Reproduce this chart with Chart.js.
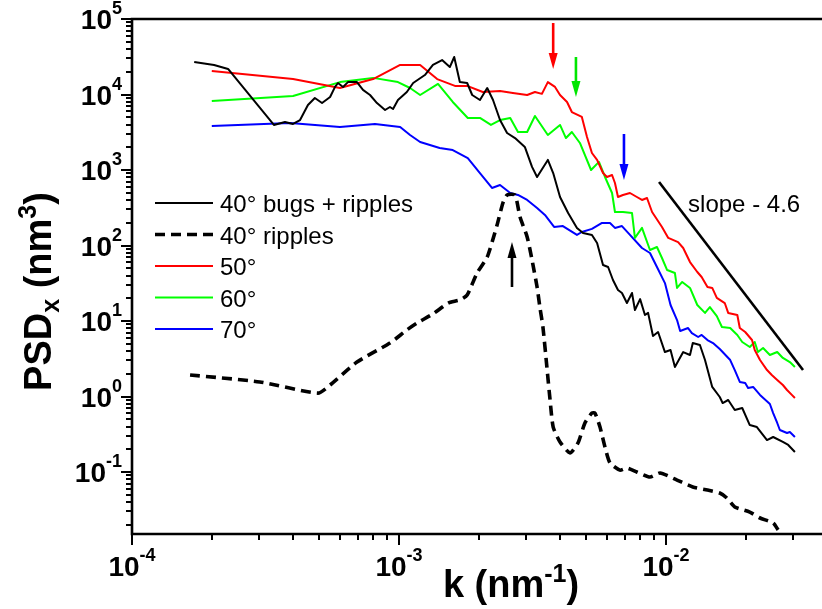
<!DOCTYPE html>
<html lang="en">
<head>
    <meta charset="UTF-8">
    <title>PSDx vs k</title>
    <script src="https://cdn.jsdelivr.net/npm/chart.js"></script>
    <style>
        body { margin: 0; background: #fff; }
        canvas { display: block; }
    </style>
</head>
<body>
    <canvas id="graficoPSD" width="822" height="609"></canvas>

    <script>
        // k (nm^-1) and PSD_x (nm^3)
        const kBugs = [1.71e-4, 2.03e-4, 2.29e-4, 3.40e-4, 3.74e-4, 4.01e-4, 4.26e-4, 4.56e-4, 4.84e-4, 5.15e-4,
            5.52e-4, 5.76e-4, 5.91e-4, 6.17e-4, 6.44e-4, 6.96e-4, 7.33e-4, 7.79e-4, 8.27e-4, 8.87e-4,
            9.25e-4, 9.50e-4, 9.91e-4, 1.07e-3, 1.13e-3, 1.25e-3, 1.34e-3, 1.45e-3, 1.55e-3, 1.61e-3,
            1.69e-3, 1.80e-3, 1.88e-3, 2.01e-3, 2.14e-3, 2.25e-3, 2.39e-3, 2.54e-3, 2.72e-3, 2.96e-3,
            3.15e-3, 3.29e-3, 3.61e-3, 3.78e-3, 4.01e-3, 4.30e-3, 4.64e-3, 4.89e-3, 5.28e-3, 5.52e-3,
            5.81e-3, 6.07e-3, 6.33e-3, 6.61e-3, 6.84e-3, 7.14e-3, 7.46e-3, 7.65e-3, 8.00e-3, 8.34e-3,
            8.57e-3, 8.94e-3, 9.34e-3, 9.91e-3, 1.04e-2, 1.08e-2, 1.16e-2, 1.23e-2, 1.26e-2, 1.34e-2,
            1.40e-2, 1.49e-2, 1.59e-2, 1.63e-2, 1.71e-2, 1.81e-2, 1.93e-2, 2.06e-2, 2.19e-2, 2.39e-2,
            2.52e-2, 2.74e-2, 2.87e-2, 3.04e-2];
        const psdBugs = [2.69e4, 2.46e4, 2.18e4, 3.95e3, 4.32e3, 4.07e3, 4.59e3, 7.26e3, 8.99e3, 7.71e3,
            9.27e3, 1.26e4, 1.42e4, 1.26e4, 1.46e4, 1.46e4, 1.15e4, 9.85e3, 7.71e3, 6.23e3,
            6.83e3, 6.43e3, 8.46e3, 1.08e4, 1.42e4, 1.81e4, 2.46e4, 2.86e4, 2.31e4, 3.14e4,
            1.46e4, 1.42e4, 9.85e3, 8.46e3, 1.22e4, 8.46e3, 4.59e3, 3.09e3, 2.65e3, 2.02e3,
            1.10e3, 808, 1.36e3, 912, 439, 269, 171, 146, 138, 108,
            55.2, 51.9, 34.9, 25.7, 23.5, 17.3, 23.5, 14.0, 19.5, 12.0,
            12.8, 6.32, 7.15, 3.88, 4.13, 2.46, 3.88, 3.55, 5.11, 4.81,
            3.04, 1.34, 0.985, 0.820, 0.899, 0.663, 0.705, 0.419, 0.394, 0.265,
            0.291, 0.250, 0.228, 0.184];

        const kRipples = [1.65e-4, 3.01e-4, 4.97e-4, 5.52e-4, 6.96e-4, 9.25e-4, 1.07e-3, 1.17e-3, 1.34e-3, 1.53e-3,
            1.69e-3, 1.80e-3, 1.96e-3, 2.14e-3, 2.33e-3, 2.45e-3, 2.54e-3, 2.72e-3, 2.84e-3, 3.02e-3,
            3.15e-3, 3.29e-3, 3.37e-3, 3.46e-3, 3.58e-3, 3.68e-3, 3.78e-3, 4.01e-3, 4.37e-3, 4.68e-3,
            4.97e-3, 5.28e-3, 5.42e-3, 5.66e-3, 5.91e-3, 6.17e-3, 6.72e-3, 7.14e-3, 7.78e-3, 8.71e-3,
            9.50e-3, 1.10e-2, 1.26e-2, 1.43e-2, 1.59e-2, 1.69e-2, 1.81e-2, 2.06e-2, 2.25e-2, 2.52e-2,
            2.63e-2];
        const psdRipples = [1.93, 1.56, 1.11, 1.42, 2.86, 5.11, 7.60, 9.41, 12.4, 17.3,
            19.0, 22.1, 43.2, 70.5, 187, 366, 467, 467, 238, 130,
            64.3, 28.2, 15.3, 8.34, 2.46, 0.899, 0.394, 0.250, 0.179, 0.242,
            0.446, 0.604, 0.604, 0.394, 0.214, 0.132, 0.106, 0.113, 0.100, 0.0859,
            0.0970, 0.0783, 0.0633, 0.0578, 0.0527, 0.0453, 0.0344, 0.0295, 0.0246, 0.0211,
            0.0171];

        const k50 = [1.99e-4, 4.01e-4, 6.01e-4, 8.00e-4, 1.01e-3, 1.20e-3, 1.39e-3, 1.62e-3, 1.80e-3, 2.06e-3,
            2.39e-3, 2.67e-3, 3.02e-3, 3.23e-3, 3.43e-3, 3.61e-3, 3.84e-3, 4.01e-3, 4.26e-3, 4.44e-3,
            4.84e-3, 5.06e-3, 5.28e-3, 5.52e-3, 5.81e-3, 6.01e-3, 6.28e-3, 6.44e-3, 6.61e-3, 6.90e-3,
            7.33e-3, 7.78e-3, 8.13e-3, 8.49e-3, 8.87e-3, 9.66e-3, 1.02e-2, 1.11e-2, 1.16e-2, 1.23e-2,
            1.31e-2, 1.36e-2, 1.43e-2, 1.49e-2, 1.55e-2, 1.66e-2, 1.71e-2, 1.85e-2, 1.89e-2, 1.98e-2,
            2.10e-2, 2.15e-2, 2.25e-2, 2.39e-2, 2.49e-2, 2.61e-2, 2.74e-2, 2.84e-2, 2.96e-2, 3.04e-2];
        const psd50 = [2.05e4, 1.60e4, 1.22e4, 1.60e4, 2.46e4, 2.46e4, 1.60e4, 1.30e4, 1.30e4, 1.08e4,
            1.11e4, 1.05e4, 9.85e3, 1.08e4, 1.02e4, 1.46e4, 1.26e4, 9.85e3, 7.96e3, 5.86e3,
            5.04e3, 2.74e3, 1.68e3, 1.36e3, 912, 808, 859, 673, 439, 467,
            496, 439, 401, 426, 278, 176, 126, 111, 92.7, 60.4,
            44.6, 38.3, 28.2, 27.4, 20.2, 17.3, 12.8, 12.0, 8.07, 7.15,
            5.60, 4.13, 3.04, 2.24, 1.93, 1.66, 1.42, 1.22, 1.05, 0.955];

        const k60 = [1.99e-4, 4.01e-4, 6.01e-4, 8.00e-4, 9.91e-4, 1.10e-3, 1.20e-3, 1.40e-3, 1.59e-3, 1.81e-3,
            2.01e-3, 2.21e-3, 2.39e-3, 2.61e-3, 2.79e-3, 3.02e-3, 3.23e-3, 3.61e-3, 4.01e-3, 4.22e-3,
            4.44e-3, 4.76e-3, 5.24e-3, 5.61e-3, 5.91e-3, 6.28e-3, 6.44e-3, 6.90e-3, 7.46e-3, 7.65e-3,
            8.13e-3, 8.71e-3, 9.25e-3, 9.66e-3, 1.01e-2, 1.08e-2, 1.10e-2, 1.15e-2, 1.23e-2, 1.31e-2,
            1.40e-2, 1.46e-2, 1.55e-2, 1.62e-2, 1.74e-2, 1.85e-2, 1.93e-2, 2.06e-2, 2.15e-2, 2.21e-2,
            2.31e-2, 2.45e-2, 2.61e-2, 2.74e-2, 2.91e-2, 3.04e-2];
        const psd60 = [8.20e3, 9.55e3, 1.46e4, 1.66e4, 1.46e4, 1.22e4, 9.85e3, 1.38e4, 7.96e3, 4.89e3,
            4.89e3, 3.95e3, 4.59e3, 4.89e3, 3.19e3, 3.19e3, 5.19e3, 2.91e3, 3.95e3, 2.65e3,
            3.19e3, 2.28e3, 1.00e3, 1.28e3, 808, 496, 278, 278, 269, 126,
            171, 87.1, 95.5, 68.3, 47.3, 43.2, 27.4, 32.9, 27.4, 16.3,
            12.8, 15.3, 11.6, 8.34, 8.07, 6.53, 5.27, 4.53, 5.27, 3.88,
            4.39, 3.55, 3.88, 3.24, 2.86, 2.46];

        const k70 = [1.99e-4, 3.91e-4, 6.01e-4, 8.13e-4, 1.01e-3, 1.10e-3, 1.20e-3, 1.42e-3, 1.59e-3, 1.81e-3,
            2.01e-3, 2.23e-3, 2.39e-3, 2.61e-3, 2.79e-3, 3.02e-3, 3.29e-3, 3.52e-3, 3.81e-3, 4.11e-3,
            4.64e-3, 4.84e-3, 5.28e-3, 5.76e-3, 6.17e-3, 6.44e-3, 6.84e-3, 7.33e-3, 8.13e-3, 8.71e-3,
            9.25e-3, 9.91e-3, 1.04e-2, 1.10e-2, 1.13e-2, 1.21e-2, 1.25e-2, 1.32e-2, 1.36e-2, 1.43e-2,
            1.50e-2, 1.59e-2, 1.74e-2, 1.81e-2, 1.89e-2, 1.98e-2, 2.03e-2, 2.12e-2, 2.25e-2, 2.45e-2,
            2.52e-2, 2.61e-2, 2.67e-2, 2.84e-2, 2.91e-2, 3.04e-2];
        const psd70 = [3.83e3, 4.19e3, 3.71e3, 4.07e3, 3.71e3, 2.91e3, 2.35e3, 1.96e3, 1.84e3, 1.44e3,
            912, 578, 633, 496, 467, 401, 314, 254, 176, 181,
            138, 151, 166, 199, 199, 171, 181, 138, 92.7, 79.6,
            51.9, 31.8, 16.3, 10.3, 7.38, 8.07, 6.93, 6.14, 6.53, 5.60,
            5.11, 4.26, 3.04, 2.24, 1.56, 1.51, 1.30, 1.34, 1.05, 0.796,
            0.604, 0.446, 0.360, 0.329, 0.339, 0.291];

        // guide line, slope -4.6
        const kSlope = [9.42e-3, 3.26e-2];
        const psdSlope = [693, 2.24];
        const slopeText = 'slope - 4.6';
        const slopeTextAt = [1.21e-2, 278];

        // arrows: k, start, tip
        const arrowK = [3.78e-3, 4.60e-3, 6.96e-3, 2.65e-3];
        const arrowFrom = [8.85e4, 3.14e4, 3.00e3, 28.2];
        const arrowTo = [2.18e4, 9.27e3, 738, 111];
        const arrowColors = ['#ff0000', '#00e600', '#0000ff', '#000000'];

        // axes
        const xMin = 1e-4, xMax = 0.0384;
        const yMin = 0.0151, yMax = 1e5;
        const xTickValues = [1e-4, 1e-3, 1e-2];
        const xTickExp = ['-4', '-3', '-2'];
        const yTickValues = [1e5, 1e4, 1e3, 1e2, 1e1, 1e0, 1e-1];
        const yTickExp = ['5', '4', '3', '2', '1', '0', '-1'];

        const FONT = '"Liberation Sans", Arial, Helvetica, sans-serif';

        const pares = (ks, vs) => ks.map((k, i) => ({ x: k, y: vs[i] }));

        // text made of pieces with their own font and vertical shift
        function textoCompuesto(ctx, piezas, x, y, align) {
            let total = 0;
            piezas.forEach(p => { ctx.font = p.font; total += ctx.measureText(p.t).width; });
            let cx = align === 'right' ? x - total : (align === 'center' ? x - total / 2 : x);
            ctx.textAlign = 'left';
            ctx.textBaseline = 'alphabetic';
            piezas.forEach(p => {
                ctx.font = p.font;
                ctx.fillText(p.t, cx, y + (p.dy || 0));
                cx += ctx.measureText(p.t).width;
            });
        }

        function potencia(exp) {
            return [
                { t: '10', font: 'bold 28px ' + FONT },
                { t: exp, font: 'bold 18px ' + FONT, dy: -15 }
            ];
        }

        function flecha(ctx, x, y0, y1, color) {
            const dir = Math.sign(y1 - y0);
            const headL = 16, headW = 9;
            ctx.strokeStyle = color;
            ctx.fillStyle = color;
            ctx.lineWidth = 2.6;
            ctx.beginPath();
            ctx.moveTo(x, y0);
            ctx.lineTo(x, y1 - dir * (headL - 2));
            ctx.stroke();
            ctx.beginPath();
            ctx.moveTo(x, y1);
            ctx.lineTo(x - headW / 2, y1 - dir * headL);
            ctx.lineTo(x + headW / 2, y1 - dir * headL);
            ctx.closePath();
            ctx.fill();
        }

        const ejesPlugin = {
            id: 'ejes',
            afterDraw(chart) {
                const ctx = chart.ctx;
                const { left, right, top, bottom } = chart.chartArea;
                const sx = chart.scales.x, sy = chart.scales.y;
                ctx.save();

                // arrows
                arrowK.forEach((k, i) => {
                    flecha(ctx, sx.getPixelForValue(k), sy.getPixelForValue(arrowFrom[i]),
                        sy.getPixelForValue(arrowTo[i]), arrowColors[i]);
                });

                // slope label
                ctx.fillStyle = '#000';
                ctx.font = '24px ' + FONT;
                ctx.textAlign = 'left';
                ctx.fillText(slopeText, sx.getPixelForValue(slopeTextAt[0]), sy.getPixelForValue(slopeTextAt[1]));

                // legend inside the plot
                const filas = chart.data.datasets.filter(d => d.label);
                filas.forEach((d, i) => {
                    const yy = top + 184 + i * 31.5;
                    ctx.strokeStyle = d.borderColor;
                    ctx.lineWidth = d.borderWidth;
                    ctx.setLineDash(d.borderDash || []);
                    ctx.beginPath();
                    ctx.moveTo(left + 23, yy);
                    ctx.lineTo(left + 81, yy);
                    ctx.stroke();
                    ctx.setLineDash([]);
                    ctx.fillStyle = '#000';
                    ctx.font = '24px ' + FONT;
                    ctx.fillText(d.label, left + 88, yy + 9);
                });

                // frame
                ctx.strokeStyle = '#000';
                ctx.lineWidth = 2.6;
                ctx.beginPath();
                ctx.moveTo(right, top);
                ctx.lineTo(left, top);
                ctx.lineTo(left, bottom);
                ctx.lineTo(right, bottom);
                ctx.stroke();

                // log ticks, pointing outwards
                ctx.lineWidth = 2;
                ctx.beginPath();
                for (let d = -5; d <= 5; d++) {
                    for (let m = 1; m <= 9; m++) {
                        const v = m * Math.pow(10, d);
                        const len = m === 1 ? 11 : 6;
                        if (v >= xMin * 0.999 && v <= xMax) {
                            const px = Math.round(sx.getPixelForValue(v));
                            ctx.moveTo(px, bottom);
                            ctx.lineTo(px, bottom + len);
                        }
                        if (v >= yMin && v <= yMax * 1.001) {
                            const py = Math.round(sy.getPixelForValue(v));
                            ctx.moveTo(left, py);
                            ctx.lineTo(left - len, py);
                        }
                    }
                }
                ctx.stroke();

                // tick labels
                ctx.fillStyle = '#000';
                xTickValues.forEach((v, i) => {
                    textoCompuesto(ctx, potencia(xTickExp[i]), sx.getPixelForValue(v), bottom + 42, 'center');
                });
                yTickValues.forEach((v, i) => {
                    textoCompuesto(ctx, potencia(yTickExp[i]), left - 10, sy.getPixelForValue(v) + 10, 'right');
                });

                // axis titles
                const big = 'bold 38px ' + FONT;
                const small = 'bold 25px ' + FONT;
                textoCompuesto(ctx, [
                    { t: 'k (nm', font: big },
                    { t: '-1', font: small, dy: -15 },
                    { t: ')', font: big }
                ], (left + right) / 2 + 34, bottom + 63, 'center');

                ctx.translate(37, (top + bottom) / 2 + 15);
                ctx.rotate(-Math.PI / 2);
                textoCompuesto(ctx, [
                    { t: 'PSD', font: big },
                    { t: 'x', font: small, dy: 8 },
                    { t: ' (nm', font: big },
                    { t: '3', font: small, dy: -15 },
                    { t: ')', font: big }
                ], 0, 14, 'center');

                ctx.restore();
            }
        };

        const linea = (label, ks, vs, color, extra) => Object.assign({
            label: label,
            data: pares(ks, vs),
            showLine: true,
            borderColor: color,
            backgroundColor: color,
            borderWidth: 2,
            pointRadius: 0,
            borderJoinStyle: 'round',
            tension: 0
        }, extra || {});

        new Chart(document.getElementById('graficoPSD'), {
            type: 'scatter',
            data: {
                datasets: [
                    linea('40° bugs + ripples', kBugs, psdBugs, '#000000'),
                    linea('40° ripples', kRipples, psdRipples, '#000000', { borderWidth: 3.6, borderDash: [10, 6], tension: 0.2 }),
                    linea('50°', k50, psd50, '#ff0000'),
                    linea('60°', k60, psd60, '#00ff00'),
                    linea('70°', k70, psd70, '#0000ff'),
                    linea('', kSlope, psdSlope, '#000000', { borderWidth: 2.6 })
                ]
            },
            options: {
                responsive: false,
                animation: false,
                devicePixelRatio: 1,
                layout: { padding: { left: 132, top: 19, right: 0, bottom: 75 } },
                plugins: {
                    legend: { display: false },
                    tooltip: { enabled: false }
                },
                scales: {
                    x: { type: 'logarithmic', min: xMin, max: xMax, display: false },
                    y: { type: 'logarithmic', min: yMin, max: yMax, display: false }
                }
            },
            plugins: [ejesPlugin]
        });
    </script>
</body>
</html>
